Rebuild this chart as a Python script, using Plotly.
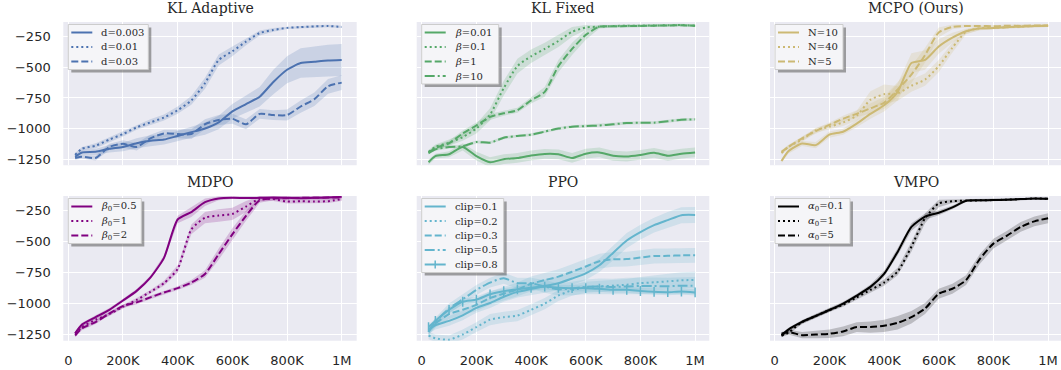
import plotly.graph_objects as go

# ---------------- data ----------------
X = [25000] + [50000 * i for i in range(1, 21)]

# KL Adaptive
kla_labels = ["d=0.003", "d=0.01", "d=0.03"]
kla_d003 = [-1230, -1195, -1190, -1165, -1150, -1120, -1100, -1090, -1060, -1030, -1000, -950, -860, -800, -740, -620, -520, -465, -455, -445, -440]
kla_d01 = [-1215, -1165, -1140, -1090, -1045, -990, -950, -910, -850, -770, -630, -440, -370, -290, -220, -195, -178, -172, -166, -163, -170]
kla_d03 = [-1240, -1230, -1240, -1150, -1125, -1150, -1080, -1040, -1045, -1045, -965, -930, -920, -965, -880, -890, -890, -820, -760, -655, -625]
kla_d003_sd = [15, 20, 25, 30, 35, 40, 45, 40, 40, 45, 50, 55, 60, 70, 80, 100, 110, 120, 125, 130, 130]
kla_d01_sd = [15, 15, 20, 20, 20, 20, 25, 25, 30, 35, 45, 45, 40, 30, 20, 15, 10, 10, 10, 10, 10]
kla_d03_sd = [15, 15, 20, 25, 30, 30, 30, 30, 35, 40, 40, 40, 40, 40, 40, 40, 45, 50, 55, 60, 60]

# KL Fixed
klf_labels = ["<i>β</i>=0.01", "<i>β</i>=0.1", "<i>β</i>=1", "<i>β</i>=10"]
klf_b001 = [-1275, -1225, -1210, -1150, -1225, -1275, -1250, -1240, -1220, -1207, -1210, -1240, -1205, -1195, -1222, -1228, -1215, -1198, -1222, -1205, -1195]
klf_b01 = [-1190, -1150, -1115, -1070, -1000, -885, -670, -490, -410, -350, -285, -210, -175, -168, -163, -160, -160, -158, -157, -155, -160]
klf_b1 = [-1195, -1160, -1120, -1040, -975, -905, -875, -850, -770, -700, -490, -350, -235, -168, -165, -163, -162, -160, -158, -157, -160]
klf_b10 = [-1200, -1170, -1150, -1145, -1110, -1115, -1075, -1060, -1050, -1025, -1000, -985, -980, -975, -965, -955, -953, -952, -940, -928, -925]
klf_b001_sd = [20, 20, 25, 30, 35, 40, 40, 40, 40, 40, 40, 40, 40, 40, 40, 40, 40, 40, 40, 40, 40]
klf_b01_sd = [15, 20, 25, 30, 40, 50, 60, 60, 55, 50, 50, 40, 20, 10, 10, 10, 10, 10, 10, 10, 10]
klf_b1_sd = [15, 20, 20, 25, 25, 25, 20, 20, 25, 40, 50, 50, 40, 15, 10, 10, 10, 10, 10, 10, 10]
klf_b10_sd = [12, 12, 12, 12, 12, 12, 12, 12, 12, 12, 12, 12, 12, 12, 12, 12, 12, 12, 12, 12, 12]

# MCPO (Ours)
mcpo_labels = ["N=10", "N=40", "N=5"]
mcpo_n10 = [-1265, -1185, -1122, -1135, -1050, -1026, -960, -880, -810, -700, -465, -440, -330, -258, -205, -182, -180, -172, -168, -162, -160]
mcpo_n40 = [-1200, -1150, -1090, -1015, -985, -950, -895, -765, -720, -712, -650, -600, -490, -340, -210, -180, -178, -172, -168, -163, -160]
mcpo_n5 = [-1190, -1150, -1080, -1020, -970, -920, -880, -835, -790, -680, -560, -400, -215, -170, -163, -162, -165, -160, -162, -158, -158]
mcpo_n10_sd = [15, 20, 20, 25, 25, 25, 30, 40, 50, 70, 80, 80, 60, 40, 20, 15, 10, 10, 10, 10, 10]
mcpo_n40_sd = [15, 15, 20, 20, 25, 30, 40, 70, 80, 60, 50, 50, 50, 40, 20, 15, 10, 10, 10, 10, 10]
mcpo_n5_sd = [15, 15, 15, 20, 20, 25, 30, 40, 50, 60, 70, 60, 40, 20, 10, 10, 10, 10, 10, 10, 10]

# MDPO
mdpo_labels = ["<i>β</i><sub>0</sub>=0.5", "<i>β</i><sub>0</sub>=1", "<i>β</i><sub>0</sub>=2"]
mdpo_b05 = [-1240, -1170, -1110, -1050, -975, -897, -790, -630, -320, -260, -180, -150, -145, -147, -145, -143, -145, -148, -145, -142, -137]
mdpo_b1 = [-1244, -1190, -1130, -1085, -1025, -970, -905, -835, -720, -400, -305, -288, -275, -215, -152, -155, -175, -172, -175, -172, -155]
mdpo_b2 = [-1258, -1200, -1150, -1080, -1020, -990, -950, -910, -875, -830, -760, -600, -440, -290, -165, -150, -148, -145, -145, -143, -143]
mdpo_b05_sd = [15, 15, 15, 15, 15, 15, 15, 20, 30, 40, 30, 15, 10, 10, 10, 10, 10, 10, 10, 10, 10]
mdpo_b1_sd = [15, 15, 15, 15, 15, 15, 15, 20, 30, 40, 45, 50, 50, 45, 20, 15, 15, 15, 15, 15, 15]
mdpo_b2_sd = [15, 15, 15, 15, 15, 15, 15, 15, 15, 20, 30, 45, 50, 40, 20, 15, 15, 15, 15, 15, 15]

# PPO
ppo_labels = ["clip=0.1", "clip=0.2", "clip=0.3", "clip=0.5", "clip=0.8"]
ppo_c01 = [-1215, -1175, -1140, -1095, -1035, -995, -945, -905, -883, -858, -836, -797, -755, -690, -590, -490, -422, -366, -325, -285, -283]
ppo_c02 = [-1258, -1280, -1292, -1250, -1190, -1130, -1110, -1097, -1050, -1000, -935, -892, -868, -861, -855, -847, -835, -828, -820, -812, -808]
ppo_c03 = [-1215, -1160, -1085, -1050, -1010, -955, -920, -885, -840, -810, -782, -742, -700, -657, -642, -640, -628, -615, -614, -610, -610]
ppo_c05 = [-1230, -1150, -1040, -965, -890, -830, -795, -835, -835, -862, -885, -878, -865, -862, -865, -861, -857, -858, -860, -855, -855]
ppo_c08 = [-1190, -1140, -1050, -985, -968, -925, -900, -885, -872, -862, -872, -875, -875, -880, -888, -888, -898, -905, -908, -902, -910]
ppo_c01_sd = [30, 35, 40, 40, 40, 40, 40, 45, 50, 55, 55, 55, 55, 55, 60, 60, 60, 60, 65, 65, 65]
ppo_c02_sd = [30, 30, 35, 40, 40, 45, 45, 45, 45, 45, 45, 45, 45, 45, 45, 45, 50, 55, 60, 65, 65]
ppo_c03_sd = [30, 35, 40, 45, 50, 55, 55, 55, 60, 60, 60, 60, 60, 60, 60, 60, 60, 60, 60, 60, 60]
ppo_c05_sd = [30, 35, 40, 40, 40, 40, 45, 45, 45, 50, 50, 55, 60, 65, 65, 70, 70, 70, 70, 70, 70]
ppo_c08_sd = [20, 20, 25, 25, 25, 25, 25, 25, 25, 25, 25, 25, 25, 25, 25, 25, 25, 25, 25, 25, 25]

# VMPO
vmpo_labels = ["<i>α</i><sub>0</sub>=0.1", "<i>α</i><sub>0</sub>=1", "<i>α</i><sub>0</sub>=5"]
vmpo_a01 = [-1258, -1210, -1148, -1100, -1052, -1000, -935, -865, -760, -580, -380, -297, -265, -222, -168, -165, -163, -160, -155, -150, -152]
vmpo_a1 = [-1258, -1235, -1150, -1100, -1052, -1010, -950, -890, -830, -740, -540, -310, -190, -172, -168, -165, -163, -160, -155, -150, -152]
vmpo_a5 = [-1244, -1230, -1255, -1250, -1244, -1225, -1190, -1190, -1180, -1155, -1110, -1040, -920, -880, -810, -640, -515, -450, -380, -335, -310]
vmpo_a01_sd = [15, 15, 15, 15, 15, 15, 15, 20, 25, 30, 30, 25, 20, 15, 10, 10, 10, 10, 10, 10, 10]
vmpo_a1_sd = [15, 15, 15, 15, 15, 15, 15, 20, 25, 30, 40, 40, 30, 15, 10, 10, 10, 10, 10, 10, 10]
vmpo_a5_sd = [15, 20, 25, 30, 35, 40, 40, 45, 50, 55, 50, 45, 40, 40, 40, 40, 40, 40, 40, 40, 40]

titles = ["KL Adaptive", "KL Fixed", "MCPO (Ours)", "MDPO", "PPO", "VMPO"]
x_tickvals = [0, 200000, 400000, 600000, 800000, 1000000]
x_ticktext = ["0", "200K", "400K", "600K", "800K", "1M"]
y_tickvals = [-250, -500, -750, -1000, -1250]
y_ticktext = ["\u2212250", "\u2212500", "\u2212750", "\u22121000", "\u22121250"]

# ---------------- styling ----------------
DOT = "2px,3px"
DASH = "7px,3px"
DASHDOT = "10px,3px,2px,3px"

panels = [
    dict(color="#4C72B0", fill="rgba(76,114,176,0.2)", labels=kla_labels, legw=80,
         series=[(kla_d003, kla_d003_sd, "solid"), (kla_d01, kla_d01_sd, DOT), (kla_d03, kla_d03_sd, DASH)]),
    dict(color="#55A868", fill="rgba(85,168,104,0.2)", labels=klf_labels, legw=77,
         series=[(klf_b001, klf_b001_sd, "solid"), (klf_b01, klf_b01_sd, DOT), (klf_b1, klf_b1_sd, DASH), (klf_b10, klf_b10_sd, DASHDOT)]),
    dict(color="#CCB974", fill="rgba(204,185,116,0.2)", labels=mcpo_labels, legw=68,
         series=[(mcpo_n10, mcpo_n10_sd, "solid"), (mcpo_n40, mcpo_n40_sd, DOT), (mcpo_n5, mcpo_n5_sd, DASH)]),
    dict(color="#800080", fill="rgba(128,0,128,0.2)", labels=mdpo_labels, legw=73,
         series=[(mdpo_b05, mdpo_b05_sd, "solid"), (mdpo_b1, mdpo_b1_sd, DOT), (mdpo_b2, mdpo_b2_sd, DASH)]),
    dict(color="#64B5CD", fill="rgba(100,181,205,0.2)", labels=ppo_labels, legw=82,
         series=[(ppo_c01, ppo_c01_sd, "solid"), (ppo_c02, ppo_c02_sd, DOT), (ppo_c03, ppo_c03_sd, DASH), (ppo_c05, ppo_c05_sd, DASHDOT), (ppo_c08, ppo_c08_sd, "marker")]),
    dict(color="#000000", fill="rgba(0,0,0,0.2)", labels=vmpo_labels, legw=75,
         series=[(vmpo_a01, vmpo_a01_sd, "solid"), (vmpo_a1, vmpo_a1_sd, DOT), (vmpo_a5, vmpo_a5_sd, DASH)]),
]

W, H = 1061, 370
ML, MR, MT, MB = 63, 0, 22, 29
PW = W - ML - MR
PH = H - MT - MB
col_px = [(63.3, 356.7), (416.7, 709.3), (770.0, 1061.0)]
row_px = [(22.0, 165.3), (196.0, 340.7)]
px_per_x = 273.4 / 1e6
zero_px = [68.3, 421.7, 774.7]


def clamp(v):
    return max(0.0, min(1.0, v))


def px(xp):
    return (xp - ML) / PW


def py(yp):
    return (MT + PH - yp) / PH


fig = go.Figure()
layout = dict()
shapes = []
annotations = []
for i, p in enumerate(panels):
    r, c = divmod(i, 3)
    ax = "" if i == 0 else str(i + 1)
    xref, yref = "x" + ax, "y" + ax
    for (vals, sd, style), lab in zip(p["series"], p["labels"]):
        up = [v + s for v, s in zip(vals, sd)]
        lo = [v - s for v, s in zip(vals, sd)]
        fig.add_trace(go.Scatter(x=X + X[::-1], y=up + lo[::-1], fill="toself", fillcolor=p["fill"],
                                 line=dict(width=0), mode="lines", hoverinfo="skip", showlegend=False,
                                 xaxis=xref, yaxis=yref))
    for (vals, sd, style), lab in zip(p["series"], p["labels"]):
        if style == "marker":
            fig.add_trace(go.Scatter(x=X, y=vals, mode="lines+markers", name=lab, showlegend=False,
                                     line=dict(color=p["color"], width=2, shape="spline", smoothing=0.6),
                                     marker=dict(symbol="line-ns", size=7, line=dict(color=p["color"], width=1.5)),
                                     xaxis=xref, yaxis=yref))
        else:
            fig.add_trace(go.Scatter(x=X, y=vals, mode="lines", name=lab, showlegend=False,
                                     line=dict(color=p["color"], width=2, dash=style, shape="spline", smoothing=0.6),
                                     xaxis=xref, yaxis=yref))
    x0, x1 = col_px[c]
    y0, y1 = row_px[r]
    xr = [-(zero_px[c] - x0) / px_per_x, (x1 - zero_px[c]) / px_per_x]
    dx = [clamp(px(x0)), clamp(px(x1))]
    dy = [clamp(py(y1)), clamp(py(y0))]
    layout["xaxis" + ax] = dict(domain=dx, range=xr,
                               anchor=yref, tickvals=x_tickvals, ticktext=x_ticktext,
                               showticklabels=(r == 1), showgrid=True, gridcolor="white", gridwidth=1.3,
                               zeroline=False, showline=False, ticks="outside", ticklen=8,
                               tickcolor="rgba(0,0,0,0)", tickfont=dict(family="DejaVu Sans", size=13, color="#262626"),
                               fixedrange=True)
    layout["yaxis" + ax] = dict(domain=dy, range=[-1300, -130],
                               anchor=xref, tickvals=y_tickvals, ticktext=y_ticktext,
                               showticklabels=(c == 0), showgrid=True, gridcolor="white", gridwidth=1.3,
                               zeroline=False, showline=False, ticks="outside", ticklen=9,
                               tickcolor="rgba(0,0,0,0)", tickfont=dict(family="DejaVu Sans", size=13, color="#262626"),
                               fixedrange=True)
    annotations.append(dict(text=titles[i], x=px((x0 + x1) / 2), xref="paper", y=dy[1], yref="paper",
                            xanchor="center", yanchor="bottom", yshift=4, showarrow=False,
                            font=dict(family="DejaVu Serif", size=14, color="#262626")))
    shapes.append(dict(type="rect", xref="paper", yref="paper", layer="below",
                       x0=dx[0], x1=dx[1], y0=dy[0], y1=dy[1],
                       fillcolor="#EAEAF2", line=dict(width=0)))

    # ----- legend box (drawn by hand to match matplotlib spacing) -----
    n = len(p["series"])
    lx0 = x0 + 5
    ly0 = y0 + 2.5
    lw = p["legw"]
    lh = 16 + (n - 1) * 14.5
    shapes.append(dict(type="rect", xref="paper", yref="paper", layer="above",
                       x0=px(lx0 + 3), x1=px(lx0 + lw + 3), y0=py(ly0 + lh + 3), y1=py(ly0 + 3),
                       fillcolor="rgba(90,90,90,0.55)", line=dict(width=0)))
    shapes.append(dict(type="rect", xref="paper", yref="paper", layer="above",
                       x0=px(lx0), x1=px(lx0 + lw), y0=py(ly0 + lh), y1=py(ly0),
                       fillcolor="#F5F5F8", line=dict(width=1, color="#CCCCCC")))
    for k, ((vals, sd, style), lab) in enumerate(zip(p["series"], p["labels"])):
        yc = ly0 + 8 + k * 14.5
        dash = "solid" if style == "marker" else style
        shapes.append(dict(type="line", xref="paper", yref="paper", layer="above",
                           x0=px(lx0 + 3), x1=px(lx0 + 24), y0=py(yc), y1=py(yc),
                           line=dict(color=p["color"], width=2, dash=dash)))
        if style == "marker":
            shapes.append(dict(type="line", xref="paper", yref="paper", layer="above",
                               x0=px(lx0 + 13.5), x1=px(lx0 + 13.5), y0=py(yc - 4), y1=py(yc + 4),
                               line=dict(color=p["color"], width=1.5)))
        annotations.append(dict(text=lab, x=px(lx0 + 32), xref="paper", y=py(yc), yref="paper",
                                xanchor="left", yanchor="middle", showarrow=False, borderpad=0,
                                font=dict(family="DejaVu Serif", size=10, color="#262626")))

fig.update_layout(**layout)
fig.update_layout(shapes=shapes, annotations=annotations, showlegend=False,
                  width=W, height=H, margin=dict(l=ML, r=MR, t=MT, b=MB, pad=0),
                  paper_bgcolor="white", plot_bgcolor="rgba(0,0,0,0)",
                  font=dict(family="DejaVu Sans", color="#262626"), hovermode=False)
fig.write_html("out.html")
